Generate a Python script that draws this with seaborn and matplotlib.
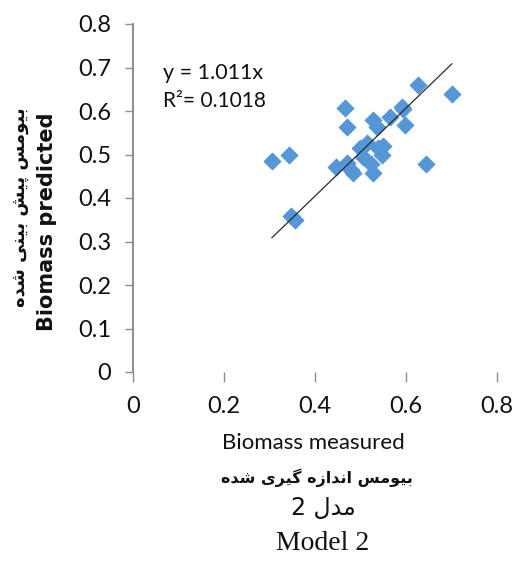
import matplotlib
matplotlib.use("Agg")
import matplotlib.pyplot as plt
import seaborn as sns
import pandas as pd

# ---------------- data ----------------
measured = [0.305, 0.343, 0.348, 0.355, 0.447, 0.466, 0.470, 0.470, 0.480, 0.484,
            0.499, 0.505, 0.514, 0.523, 0.527, 0.527, 0.536, 0.538, 0.547, 0.550,
            0.565, 0.591, 0.593, 0.598, 0.626, 0.644, 0.701]
predicted = [0.485, 0.499, 0.358, 0.350, 0.471, 0.607, 0.563, 0.480, 0.464, 0.457,
             0.515, 0.494, 0.526, 0.478, 0.457, 0.579, 0.563, 0.515, 0.499, 0.520,
             0.586, 0.609, 0.605, 0.567, 0.660, 0.478, 0.639]
slope = 1.011
r_squared = 0.1018
x_ticks = [0, 0.2, 0.4, 0.6, 0.8]
x_tick_labels = ["0", "0.2", "0.4", "0.6", "0.8"]
y_ticks = [0, 0.1, 0.2, 0.3, 0.4, 0.5, 0.6, 0.7, 0.8]
y_tick_labels = ["0", "0.1", "0.2", "0.3", "0.4", "0.5", "0.6", "0.7", "0.8"]

x_label = "Biomass measured"
y_label = "Biomass predicted"
# Persian labels (presentation forms, visual order)
fa_y_label = ("\uFEE9\uFEAA\uFEB7 \uFBFD\uFEE8\uFBFF\uFE91 "
              "\uFEB6\uFBFF\uFB58 \uFEB2\uFEE3\uFEEE\uFBFF\uFE91")
fa_x_label = ("\uFEE9\uFEAA\uFEB7 \uFBFC\uFEAE\uFBFF\uFB94 "
              "\uFEE9\uFEAF\uFE8D\uFEAA\uFEE7\uFE8D \uFEB2\uFEE3\uFEEE\uFBFF\uFE91")
fa_model = "2 \uFEDD\uFEAA\uFEE3"
en_model = "Model 2"

df = pd.DataFrame({"measured": measured, "predicted": predicted})

# ---------------- style ----------------
sns.set_theme(style="white")
plt.rcParams["font.family"] = ["Lato", "DejaVu Sans"]

W, H = 515, 570
fig = plt.figure(figsize=(W / 100, H / 100), dpi=100)
ax = fig.add_axes([133 / W, 1 - 372 / H, (497 - 133) / W, (372 - 24) / H])

sns.scatterplot(data=df, x="measured", y="predicted", ax=ax, marker="D",
                s=72, color="#5596D6", edgecolor="#5596D6", linewidth=0.8,
                zorder=3)

x0, x1 = min(measured), max(measured)
sns.lineplot(x=[x0, x1], y=[slope * x0, slope * x1], ax=ax,
             color="#2b2b2b", linewidth=0.9, zorder=4)

ax.set_xlim(0, 0.8)
ax.set_ylim(0, 0.8)
ax.set_xticks(x_ticks)
ax.set_xticklabels(x_tick_labels)
ax.set_yticks(y_ticks)
ax.set_yticklabels(y_tick_labels)
ax.set_xlabel("")
ax.set_ylabel("")

for side in ["top", "right", "bottom"]:
    ax.spines[side].set_visible(False)
ax.spines["left"].set_color("#8c8c8c")
ax.spines["left"].set_linewidth(1.4)

ax.tick_params(axis="y", which="major", direction="out", length=5.5, width=1.0,
               color="#8c8c8c", labelsize=17, pad=10, left=True, labelcolor="#111111")
ax.tick_params(axis="x", which="major", direction="out", length=7, width=1.0,
               color="#8c8c8c", labelsize=17, pad=10, bottom=True, labelcolor="#111111")

# regression annotation
fig.text(163 / W, 1 - 73 / H, f"y = {slope:.3f}x", fontsize=15.5, ha="left",
         va="center", color="#111111")
fig.text(163 / W, 1 - 101 / H, f"R\u00b2= {r_squared:.4f}", fontsize=15,
         ha="left", va="center", color="#111111")

# axis labels
fig.text(47 / W, 1 - 222 / H, y_label, rotation=90, fontsize=15,
         fontweight="bold", ha="center", va="center",
         family=["DejaVu Sans"], color="#111111")
fig.text(20 / W, 1 - 207 / H, fa_y_label, rotation=90, fontsize=13,
         fontweight="bold", ha="center", va="center",
         family=["DejaVu Sans"], color="#111111")
fig.text(313 / W, 1 - 443 / H, x_label, fontsize=16, ha="center", va="center",
         color="#111111")
fig.text(317 / W, 1 - 478 / H, fa_x_label, fontsize=11.5, fontweight="bold",
         ha="center", va="center", family=["DejaVu Sans"], color="#111111")
fig.text(323 / W, 1 - 508 / H, fa_model, fontsize=17, ha="center", va="center",
         family=["DejaVu Sans"], color="#111111")
fig.text(323 / W, 1 - 543 / H, en_model, fontsize=20, ha="center", va="center",
         family=["Liberation Serif"], color="#111111")

fig.savefig("out.png", dpi=100)
